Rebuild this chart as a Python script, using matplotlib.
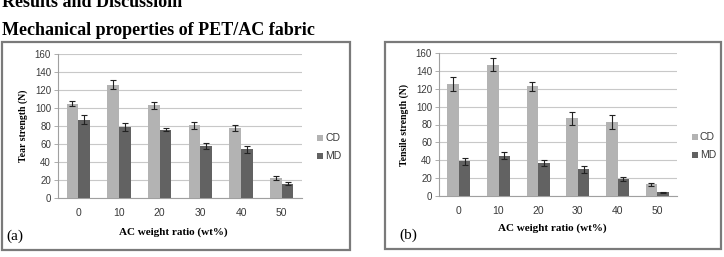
import matplotlib
matplotlib.use("Agg")
import matplotlib.pyplot as plt
import numpy as np
from matplotlib.patches import Rectangle

categories = ["0", "10", "20", "30", "40", "50"]
tear_cd = [105, 126, 103, 81, 78, 22]
tear_cd_err = [3, 5, 4, 4, 3, 2]
tear_md = [87, 79, 76, 58, 54, 16]
tear_md_err = [5, 4, 2, 3, 4, 2]
tens_cd = [125, 147, 123, 87, 83, 13]
tens_cd_err = [8, 7, 5, 7, 8, 2]
tens_md = [39, 45, 37, 30, 19, 4]
tens_md_err = [4, 4, 3, 4, 2, 1]
yticks = [0, 20, 40, 60, 80, 100, 120, 140, 160]

W, H = 724, 257
fig = plt.figure(figsize=(W / 100, H / 100), dpi=100)
fig.patch.set_facecolor("white")

def fx(x): return x / W
def fy(y): return 1 - y / H

serif = "Liberation Serif"
sans = "Liberation Sans"

fig.text(fx(2), fy(7), "Results and Discussioin", fontfamily=serif, fontweight="bold",
         fontsize=13, va="baseline", ha="left")
fig.text(fx(2), fy(35), "Mechanical properties of PET/AC fabric", fontfamily=serif,
         fontweight="bold", fontsize=13, va="baseline", ha="left")

CD_COLOR = "#b3b3b3"
MD_COLOR = "#626262"

def panel(frame, axbox, cd, cde, md, mde, ylabel, tag, tagpos, xlabpos, legpos):
    fl, ft, fr, fb = frame
    fig.patches.append(Rectangle((fx(fl), fy(fb)), fx(fr - fl), (fb - ft) / H,
                                 transform=fig.transFigure, fill=False,
                                 edgecolor="#7a7a7a", linewidth=1.6))
    l, t, r, b = axbox
    ax = fig.add_axes([fx(l), fy(b), fx(r - l), (b - t) / H])
    x = np.arange(len(categories))
    w = 0.29
    ax.bar(x - w / 2, cd, w, color=CD_COLOR, yerr=cde, capsize=1.9,
           error_kw=dict(ecolor="#222222", elinewidth=0.8, capthick=0.8), zorder=3, label="CD")
    ax.bar(x + w / 2, md, w, color=MD_COLOR, yerr=mde, capsize=1.9,
           error_kw=dict(ecolor="#222222", elinewidth=0.8, capthick=0.8), zorder=3, label="MD")
    ax.set_xlim(-0.5, len(categories) - 0.5)
    ax.set_ylim(0, 160)
    ax.set_yticks(yticks)
    ax.set_xticks(x)
    ax.set_xticklabels(categories)
    ax.yaxis.grid(True, color="#c8c8c8", linewidth=0.8, zorder=0)
    ax.set_axisbelow(True)
    for s in ["top", "right"]:
        ax.spines[s].set_visible(False)
    ax.spines["left"].set_color("#a0a0a0")
    ax.spines["bottom"].set_color("#a0a0a0")
    ax.tick_params(axis="y", labelsize=7, colors="#a0a0a0", labelcolor="#3a3a3a",
                   length=3, width=0.6, pad=2)
    ax.tick_params(axis="x", labelsize=7.5, length=0, labelcolor="#3a3a3a", pad=7)
    for lab in ax.get_xticklabels() + ax.get_yticklabels():
        lab.set_fontfamily(sans)
    ax.set_ylabel(ylabel, fontfamily=serif, fontweight="bold", fontsize=7, labelpad=5)
    fig.text(fx(xlabpos[0]), fy(xlabpos[1]), "AC weight ratio (wt%)", fontfamily=serif,
             fontweight="bold", fontsize=8, ha="center", va="center")
    fig.text(fx(tagpos[0]), fy(tagpos[1]), tag, fontfamily=serif, fontsize=11,
             ha="left", va="center")
    # legend
    for i, (lab, col) in enumerate([("CD", CD_COLOR), ("MD", MD_COLOR)]):
        lx, ly = legpos[0], legpos[1] + i * 18
        fig.patches.append(Rectangle((fx(lx), fy(ly + 3)), fx(6), 6 / H,
                                     transform=fig.transFigure, facecolor=col, edgecolor="none"))
        fig.text(fx(lx + 8), fy(ly), lab, fontfamily=sans, fontsize=7.5,
                 color="#3a3a3a", ha="left", va="center")
    return ax

panel((2, 42, 350, 250), (58, 54, 302, 198), tear_cd, tear_cd_err, tear_md, tear_md_err,
      "Tear strength (N)", "(a)", (6, 236), (173, 232), (317, 138))
panel((385, 42, 721, 249), (439, 53, 677, 196), tens_cd, tens_cd_err, tens_md, tens_md_err,
      "Tensile strength (N)", "(b)", (399, 235), (552, 228), (692, 137))

fig.savefig("out.png", dpi=100)
